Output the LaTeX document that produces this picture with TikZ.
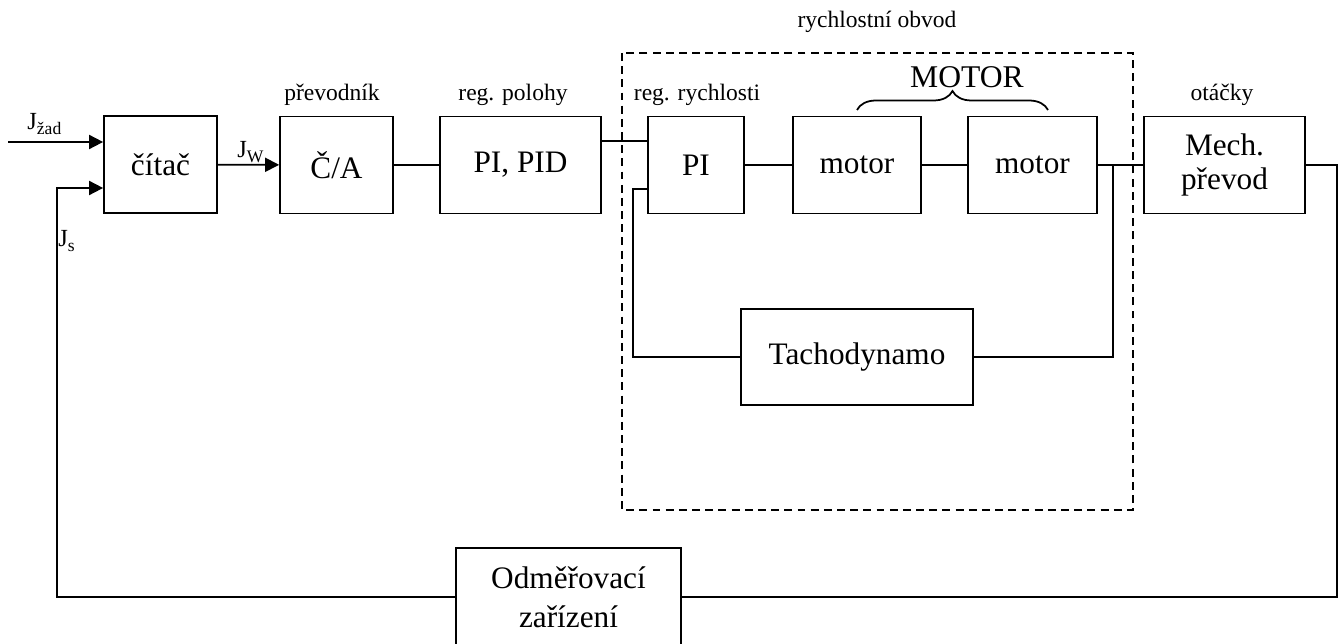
\documentclass[tikz,border=0pt]{standalone}
\usepackage{fontspec}
\setmainfont{Liberation Serif}
\usepackage{tikz}
\usetikzlibrary{arrows.meta}
\usetikzlibrary{decorations.pathreplacing}
\usetikzlibrary{positioning}
\tikzstyle{blok}  = [
    draw,
    line width=1pt,
    inner sep=0pt,
    minimum height=1.94cm,
    align=center,
    font=\fontsize{17.8}{19}\selectfont
]
\tikzstyle{spoj}  = [
    draw,
    line width=1pt
]
\tikzstyle{sipka} = [
    spoj,
    -{Triangle[length=8pt,width=8pt]}
]
\tikzstyle{popis} = [
    inner sep=0pt,
    font=\fontsize{13.4}{16}\selectfont
]
\tikzstyle{signal} = [
    inner sep=0pt,
    anchor=west,
    font=\fontsize{14}{16}\selectfont
]
\newcommand{\sgn}[2]{#1\raisebox{-0.22em}{\fontsize{10}{11}\selectfont #2}}

\begin{document}
\begin{tikzpicture}[x=0.02cm, y=-0.02cm]
\useasboundingbox (0,0) rectangle (1341,644);

% bloky
\node[blok, minimum width=2.26cm] (citac) at (160.5,164.5) {čítač};
\node[blok, minimum width=2.26cm] (ca)    at (336.5,165)   {Č/A};
\node[blok, minimum width=3.22cm] (pid)   at (520.5,165)   {PI, PID};
\node[blok, minimum width=1.92cm] (pi)    at (696,165)     {PI};
\node[blok, minimum width=2.56cm] (mot1)  at (857,165)     {motor};
\node[blok, minimum width=2.58cm] (mot2)  at (1032.5,165)  {motor};
\node[blok, minimum width=3.22cm] (mech)  at (1224.5,165)  {Mech.\\převod};
\node[blok, minimum width=4.64cm, minimum height=1.92cm] (tacho) at (857,357) {Tachodynamo};
\node[blok, minimum width=4.5cm, minimum height=1.96cm,
      font=\fontsize{17.8}{22}\selectfont] (odmer) at (568.5,597) {Odměřovací\\zařízení};

% popisy
\node[popis] (lprev)  at (332,95)  {převodník};
\node[popis] (lpol)   at (513,95)  {reg. polohy};
\node[popis] (lrych)  at (697,95)  {reg. rychlosti};
\node[popis] (lobvod) at (877,22)  {rychlostní obvod};
\node[popis] (lotac)  at (1222,95) {otáčky};
\node[inner sep=0pt, font=\fontsize{18}{20}\selectfont] (lmotor) at (967,77) {MOTOR};
\draw[line width=1pt, decorate, decoration={brace, amplitude=0.38cm}] (857,110) -- (1048,110);

% rychlostni obvod
\draw[line width=1pt, dash pattern=on 4.5pt off 3pt] (622,53) rectangle (1133,510);

% signaly
\coordinate (jzad) at (8,142);
\coordinate (js)   at (57,188);
\coordinate (odb)  at (1113,165);
\coordinate (zv)   at (633,189);
\coordinate (vyst) at (1337,165);
\node[signal] (ljzad) at (27,124)  {\sgn{J}{žad}};
\node[signal] (ljw)   at (237,152) {\sgn{J}{W}};
\node[signal] (ljs)   at (58,241)  {\sgn{J}{s}};

\draw[sipka] (jzad) -- (citac.west |- jzad);
\draw[sipka] (odmer.west) -| (js) -- (citac.west |- js);
\draw[sipka] (citac) -- (ca);
\draw[spoj] (ca) -- (pid);
\draw[spoj] ([yshift=0.48cm]pid.east) -- ([yshift=0.48cm]pi.west);
\draw[spoj] (pi) -- (mot1);
\draw[spoj] (mot1) -- (mot2);
\draw[spoj] (mot2) -- (mech);
\draw[spoj] (odb) |- (tacho.east);
\draw[spoj] (tacho.west) -| (zv) -- (pi.west |- zv);
\draw[spoj] (mech.east) -- (vyst) |- (odmer.east);

\end{tikzpicture}
\end{document}
